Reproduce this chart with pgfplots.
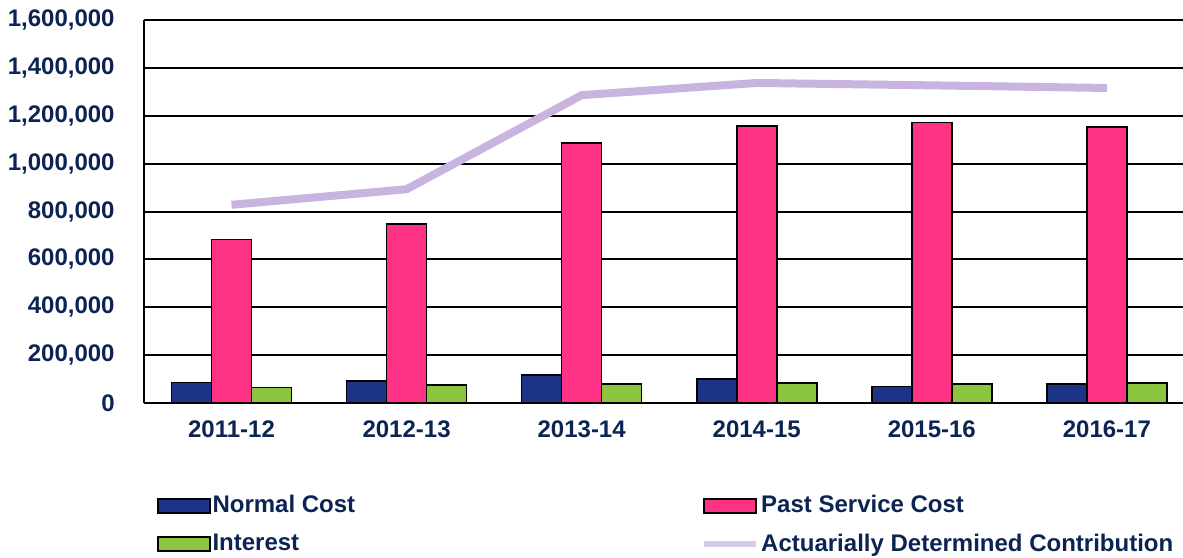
\documentclass[border=0pt]{standalone}
\usepackage{fontspec}
\setmainfont{Liberation Sans}
\usepackage{pgfplots}
\pgfplotsset{compat=1.18}
\definecolor{navybar}{RGB}{28,52,135}
\definecolor{pinkbar}{RGB}{255,51,133}
\definecolor{greenbar}{RGB}{140,198,63}
\definecolor{lav}{RGB}{200,180,222}
\definecolor{labnavy}{RGB}{12,36,84}
\pgfplotsset{
  barleg/.style={legend image code/.code={\draw[##1] (0pt,-3.5pt) rectangle (26pt,3.5pt);}},
  lineleg/.style={legend image code/.code={\draw[lav!70, line width=3pt] (0pt,0pt) -- (26pt,0pt);}},
}

\begin{document}
\begin{tikzpicture}
\begin{axis}[name=ax, scale only axis, width=519.5pt, height=191.5pt,
  xmin=-0.5, xmax=5.435, ymin=0, ymax=1600000,
  xtick={0,1,2,3,4,5},
  xticklabels={2011-12,2012-13,2013-14,2014-15,2015-16,2016-17},
  ytick={0,200000,400000,600000,800000,1000000,1200000,1400000,1600000},
  scaled y ticks=false,
  ymajorgrids, grid style={black, line width=1pt},
  axis x line*=bottom, axis y line*=left,
  axis line style={black, line width=1pt},
  major tick length=0pt,
  tick label style={font=\fontsize{12}{14}\selectfont\bfseries, text=labnavy, inner sep=0pt},
  yticklabel style={xshift=-14.5pt, /pgf/number format/fixed,
    /pgf/number format/1000 sep={,}, /pgf/number format/assume math mode=true},
  xticklabel style={yshift=-8.5pt},
  legend columns=2,
  legend cell align=left,
  legend style={at={(0.0063,-0.225)}, anchor=north west, draw=none, fill=none,
    font=\fontsize{12}{14}\selectfont\bfseries, text=labnavy,
    nodes={inner sep=1pt}, row sep=7pt,
    /tikz/every even column/.append style={column sep=172pt}},
]
\addplot[ybar, bar width=0.2286, bar shift=-0.2286, fill=navybar, draw=black, line width=0.8pt, barleg]
  coordinates {(0,85000) (1,92000) (2,117000) (3,100000) (4,69000) (5,79000)};
\addplot[ybar, bar width=0.2286, bar shift=0, fill=pinkbar, draw=black, line width=0.8pt, barleg]
  coordinates {(0,683000) (1,748000) (2,1085000) (3,1157000) (4,1172000) (5,1154000)};
\addplot[ybar, bar width=0.2286, bar shift=0.2286, fill=greenbar, draw=black, line width=0.8pt, barleg]
  coordinates {(0,64000) (1,75000) (2,79000) (3,83000) (4,80000) (5,83000)};
\addplot[lav, line width=4pt, mark=none, lineleg]
  coordinates {(0,828000) (1,893000) (2,1286000) (3,1337000) (4,1327000) (5,1316000)};
\legend{Normal Cost, Past Service Cost, Interest, Actuarially Determined Contribution}
\end{axis}
\pgfresetboundingbox
\path[use as bounding box] ([xshift=-72pt,yshift=-77pt]ax.south west) rectangle ([yshift=10pt]ax.north east);
\end{tikzpicture}
\end{document}
